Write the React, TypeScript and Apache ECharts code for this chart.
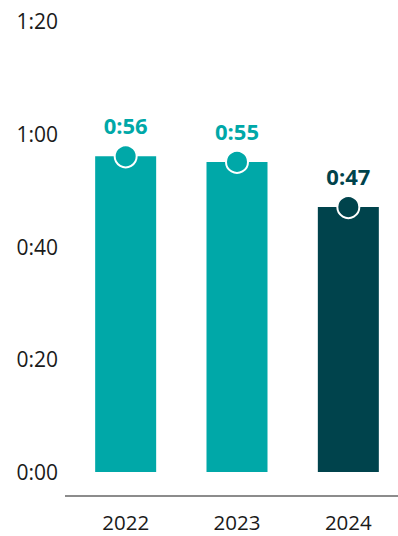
import React, { useEffect, useRef } from "react";
import * as echarts from "echarts";

const years = ["2022", "2023", "2024"];
const minutes = [56, 55, 47];
const barColors = ["#00A8A8", "#00A8A8", "#00434C"];
const yTicks = [0, 20, 40, 60, 80];

const fmt = (m: number) => {
  const h = Math.floor(m / 60);
  const mm = Math.round(m % 60);
  return `${h}:${mm < 10 ? "0" + mm : mm}`;
};

export default function App() {
  const ref = useRef<HTMLDivElement>(null);
  useEffect(() => {
    if (!ref.current) return;
    const chart = echarts.init(ref.current, null, { renderer: "svg" });
    const font = "'Open Sans', sans-serif";
    chart.setOption({
      animation: false,
      grid: { left: 70, right: 0, top: 21, bottom: 64 },
      xAxis: {
        type: "category",
        data: years,
        offset: 24,
        axisLine: { show: false },
        axisTick: { show: false },
        axisLabel: { fontSize: 20.5, lineHeight: 20, color: "#1a1a1a", fontFamily: font, margin: 16 },
      },
      yAxis: {
        type: "value",
        min: yTicks[0],
        max: yTicks[yTicks.length - 1],
        interval: 20,
        splitLine: { show: false },
        axisLine: { show: false },
        axisTick: { show: false },
        axisLabel: {
          fontSize: 21,
          color: "#1a1a1a",
          fontFamily: font,
          margin: 12,
          formatter: (v: number) => fmt(v),
        },
      },
      graphic: [
        {
          type: "line",
          shape: { x1: 65, y1: 496, x2: 398, y2: 496 },
          style: { stroke: "#8c8c8c", lineWidth: 2 },
        },
      ],
      series: [
        {
          type: "bar",
          barWidth: 61,
          data: minutes.map((v, i) => ({ value: v, itemStyle: { color: barColors[i] } })),
        },
        {
          type: "scatter",
          symbol: "circle",
          symbolSize: 22,
          z: 5,
          data: minutes.map((v, i) => ({
            value: v,
            itemStyle: { color: barColors[i], borderColor: "#ffffff", borderWidth: 2, opacity: 1 },
            label: { color: barColors[i] },
          })),
          label: {
            show: true,
            position: "top",
            distance: 8,
            fontSize: 22,
            fontWeight: "bold",
            fontFamily: font,
            formatter: (p: any) => fmt(p.value),
          },
        },
      ],
    });
    return () => chart.dispose();
  }, []);
  return (
    <div style={{ position: "fixed", left: 0, top: 0, width: 398, height: 536, overflow: "hidden", background: "#fff" }}>
      <div ref={ref} style={{ width: 404, height: 536 }} />
    </div>
  );
}
